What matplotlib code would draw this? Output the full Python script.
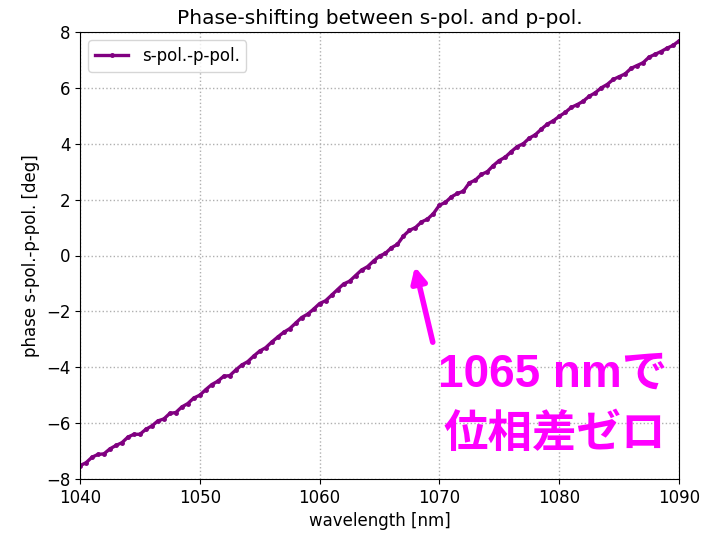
import numpy as np
import matplotlib
matplotlib.use("Agg")
import matplotlib.pyplot as plt

plt.rcParams["font.family"] = ["DejaVu Sans"]

wavelength = [1040.0 + 0.5 * i for i in range(101)]
phase = [
    -7.52, -7.42, -7.22, -7.12, -7.10, -6.92, -6.80, -6.70, -6.50, -6.40,
    -6.40, -6.22, -6.10, -5.92, -5.85, -5.65, -5.62, -5.42, -5.30, -5.10,
    -5.00, -4.80, -4.62, -4.50, -4.32, -4.30, -4.10, -3.92, -3.80, -3.60,
    -3.42, -3.30, -3.10, -2.92, -2.75, -2.62, -2.42, -2.22, -2.10, -1.92,
    -1.72, -1.62, -1.42, -1.22, -1.02, -0.92, -0.72, -0.52, -0.40, -0.20,
    -0.02, 0.08, 0.28, 0.40, 0.70, 0.90, 1.00, 1.20, 1.30, 1.50,
    1.80, 1.90, 2.10, 2.22, 2.30, 2.60, 2.70, 2.90, 3.00, 3.22,
    3.40, 3.52, 3.72, 3.90, 4.00, 4.20, 4.32, 4.52, 4.70, 4.82,
    4.98, 5.12, 5.30, 5.40, 5.52, 5.70, 5.82, 6.00, 6.12, 6.30,
    6.40, 6.50, 6.70, 6.80, 6.90, 7.10, 7.20, 7.30, 7.42, 7.52,
    7.68,
]
series_label = "s-pol.-p-pol."
title = "Phase-shifting between s-pol. and p-pol."
xlabel = "wavelength [nm]"
ylabel = "phase s-pol.-p-pol. [deg]"
annot_line1 = "1065 nmで"
annot_line2 = "位相差ゼロ"

fig = plt.figure(figsize=(7.16, 5.33), dpi=100)
ax = fig.add_axes([80/716, 1 - 479/533, (679-80)/716, (479-32)/533])

ax.plot(wavelength, phase, color="purple", lw=2.4, marker=".", ms=5, label=series_label)
ax.set_xlim(1040, 1090)
ax.set_ylim(-8, 8)
ax.set_yticks(np.arange(-8, 9, 2))
ax.grid(True, linestyle=":", color="#b0b0b0", lw=1)
ax.tick_params(labelsize=12)
ax.set_title(title, fontsize=14.5)
ax.set_xlabel(xlabel, fontsize=12)
ax.set_ylabel(ylabel, fontsize=12)
ax.legend(loc="upper left", fontsize=12)

ax.annotate("", xy=(1067.9, -0.3), xytext=(1069.5, -3.2),
            arrowprops=dict(arrowstyle="-|>,head_length=0.9,head_width=0.45",
                            color="magenta", lw=4))
fam = ["Liberation Sans", "Noto Sans CJK JP", "DejaVu Sans"]
ax.text(1079.5, -4.71, annot_line1, color="magenta", fontsize=33, fontweight="bold",
        ha="center", va="baseline", family=fam)
ax.text(1079.6, -6.85, annot_line2, color="magenta", fontsize=32, fontweight="bold",
        ha="center", va="baseline", family=["Noto Sans CJK JP", "DejaVu Sans"])

fig.savefig("out.png", dpi=100)
